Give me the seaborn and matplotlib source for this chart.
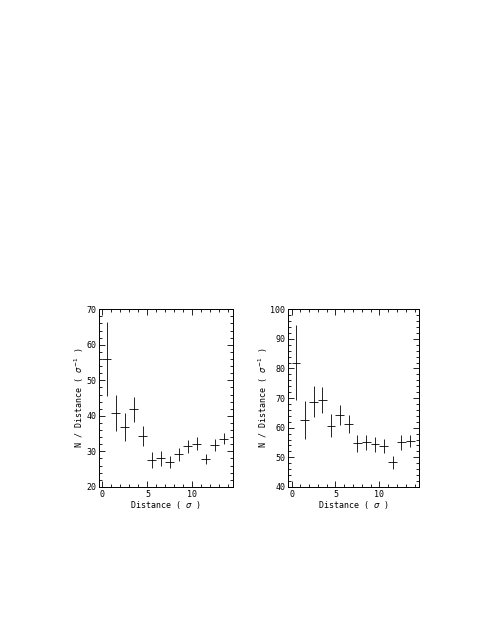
import numpy as np
import matplotlib
matplotlib.use("Agg")
import matplotlib.pyplot as plt
import seaborn as sns
from matplotlib.ticker import MultipleLocator

# bin centres (distance in sigma)
distance = [0.5, 1.5, 2.5, 3.5, 4.5, 5.5, 6.5, 7.5, 8.5, 9.5, 10.5, 11.5, 12.5, 13.5]
bin_half_width = 0.5

# left panel
density_left = [56.0, 40.8, 36.9, 41.8, 34.3, 27.5, 28.0, 27.0, 29.2, 31.4, 32.2, 27.8, 31.8, 33.6]
err_left = [10.5, 5.2, 3.9, 3.4, 2.7, 2.3, 2.0, 1.8, 1.8, 1.8, 1.8, 1.4, 1.6, 1.6]

# right panel
density_right = [82.0, 62.7, 68.8, 69.2, 60.7, 64.2, 61.3, 54.7, 55.0, 54.4, 53.7, 48.3, 55.0, 55.6]
err_right = [12.8, 6.4, 5.2, 4.4, 3.8, 3.4, 3.1, 2.9, 2.5, 2.6, 2.4, 2.1, 2.4, 2.0]

sns.set_style("ticks")
plt.rcParams['font.family'] = ['DejaVu Sans Mono']
plt.rcParams['mathtext.fontset'] = 'dejavusans'
plt.rcParams['text.color'] = 'black'
plt.rcParams['axes.labelcolor'] = 'black'
plt.rcParams['xtick.color'] = 'black'
plt.rcParams['ytick.color'] = 'black'

fig = plt.figure(figsize=(4.8, 6.21), dpi=100)

panels = [
    (fig.add_axes([0.206, 0.216, 0.279, 0.286]), density_left, err_left, (20, 70)),
    (fig.add_axes([0.600, 0.216, 0.273, 0.286]), density_right, err_right, (40, 100)),
]

for ax, vals, errs, ylim in panels:
    ax.errorbar(distance, vals, yerr=errs, xerr=bin_half_width, fmt='none',
                ecolor='black', elinewidth=0.6, capsize=0)
    ax.set_xlim(-0.4, 14.5)
    ax.set_ylim(*ylim)
    ax.xaxis.set_major_locator(MultipleLocator(5))
    ax.xaxis.set_minor_locator(MultipleLocator(1))
    ax.yaxis.set_major_locator(MultipleLocator(10))
    ax.yaxis.set_minor_locator(MultipleLocator(2))
    ax.tick_params(which='both', direction='in', top=True, right=True,
                   width=0.6, labelsize=6, pad=2)
    ax.tick_params(which='major', length=4)
    ax.tick_params(which='minor', length=2)
    for s in ax.spines.values():
        s.set_linewidth(0.7)
        s.set_color('black')
    ax.set_xlabel(r'Distance ( $\sigma$ )', fontsize=6, labelpad=0)
    ax.set_ylabel(r'N / Distance ( $\sigma^{-1}$ )', fontsize=6, labelpad=0)

fig.savefig("out.png", dpi=100)
